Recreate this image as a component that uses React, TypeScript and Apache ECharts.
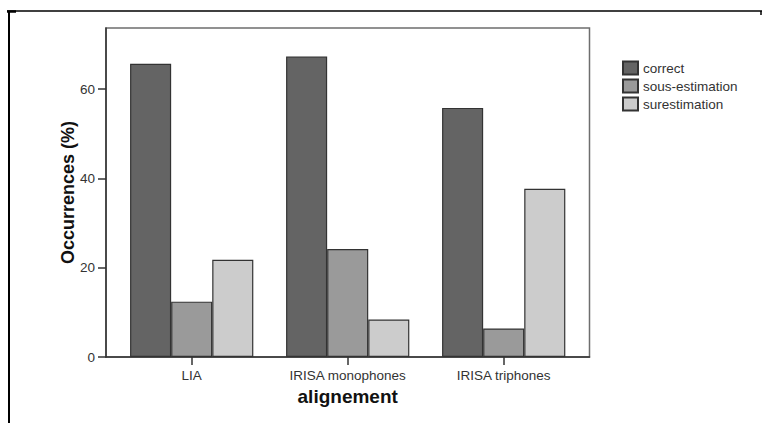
import React, { useEffect, useRef } from "react";
import * as echarts from "echarts";

const categories = ["LIA", "IRISA monophones", "IRISA triphones"];
const seriesNames = ["correct", "sous-estimation", "surestimation"];
const correctValues = [65.7, 67.3, 55.8];
const sousValues = [12.4, 24.2, 6.4];
const surValues = [21.8, 8.4, 37.7];
const yTicks = [0, 20, 40, 60];

const FONT = "'Liberation Sans', Arial, sans-serif";
const colors = ["#646464", "#9a9a9a", "#cccccc"];

export default function App() {
  const ref = useRef<HTMLDivElement>(null);
  useEffect(() => {
    if (!ref.current) return;
    const chart = echarts.init(ref.current, null, { renderer: "svg" });
    const values = [correctValues, sousValues, surValues];
    const yMax = 73.7;
    chart.setOption({
      animation: false,
      backgroundColor: "#ffffff",
      textStyle: { fontFamily: FONT },
      grid: [
        { left: 106, top: 28, width: 483.5, height: 329, show: true, borderColor: "#6e6e6e", borderWidth: 1.5, backgroundColor: "transparent" },
        { left: 113.7, top: 28, width: 468, height: 329, show: false },
      ],
      legend: {
        orient: "vertical",
        left: 617,
        top: 55.5,
        itemWidth: 15,
        itemHeight: 13,
        itemGap: 3,
        icon: "rect",
        data: seriesNames,
        textStyle: { fontFamily: FONT, fontSize: 13.5, color: "#333", lineHeight: 15 },
      },
      xAxis: [
        {
          gridIndex: 0,
          type: "category",
          data: categories,
          axisLine: { show: true, lineStyle: { color: "#333", width: 1.5 } },
          axisTick: { show: false },
          axisLabel: { show: false },
          splitLine: { show: false },
        },
        {
          gridIndex: 1,
          type: "category",
          data: categories,
          axisLine: { show: false },
          axisTick: { show: true, alignWithLabel: true, length: 8, lineStyle: { color: "#333", width: 1.5 } },
          axisLabel: { show: true, margin: 11, fontFamily: FONT, fontSize: 13.5, color: "#333" },
          name: "alignement",
          nameLocation: "middle",
          nameGap: 30,
          nameMoveOverlap: false,
          nameTextStyle: { fontFamily: FONT, fontSize: 19, fontWeight: "bold", color: "#111" },
          splitLine: { show: false },
        },
      ],
      yAxis: [
        {
          gridIndex: 0,
          type: "value",
          min: 0,
          max: yMax,
          interval: 20,
          axisLine: { show: true, lineStyle: { color: "#333", width: 1.5 } },
          axisTick: { show: true, length: 8, lineStyle: { color: "#333", width: 1.5 } },
          axisLabel: {
            show: true,
            margin: 11,
            fontFamily: FONT,
            fontSize: 13.5,
            color: "#333",
            showMaxLabel: false,
            formatter: (v: number) => (yTicks.includes(v) ? String(v) : ""),
          },
          splitLine: { show: false },
          name: "Occurrences (%)",
          nameLocation: "middle",
          nameGap: 29,
          nameMoveOverlap: false,
          nameTextStyle: { fontFamily: FONT, fontSize: 18, fontWeight: "bold", color: "#111" },
        },
        {
          gridIndex: 1,
          type: "value",
          min: 0,
          max: yMax,
          show: false,
          splitLine: { show: false },
        },
      ],
      series: seriesNames.map((name, i) => ({
        name,
        type: "bar",
        xAxisIndex: 1,
        yAxisIndex: 1,
        data: values[i],
        barGap: "0%",
        barCategoryGap: "21%",
        itemStyle: { color: colors[i], borderColor: "#333", borderWidth: 1.2 },
      })),
      graphic: [
        { type: "line", shape: { x1: 7, y1: 11, x2: 762, y2: 11 }, style: { stroke: "#000", lineWidth: 1.6 } },
        { type: "line", shape: { x1: 9, y1: 11, x2: 9, y2: 423 }, style: { stroke: "#000", lineWidth: 2 } },
        { type: "line", shape: { x1: 7, y1: 11.5, x2: 16, y2: 11.5 }, style: { stroke: "#000", lineWidth: 2.5 } },
        { type: "line", shape: { x1: 761, y1: 11, x2: 761, y2: 15 }, style: { stroke: "#000", lineWidth: 1.5 } },
      ],
    });
    return () => chart.dispose();
  }, []);
  return (
    <div
      ref={ref}
      style={{ position: "fixed", left: 0, top: 0, width: 763, height: 423 }}
    />
  );
}
